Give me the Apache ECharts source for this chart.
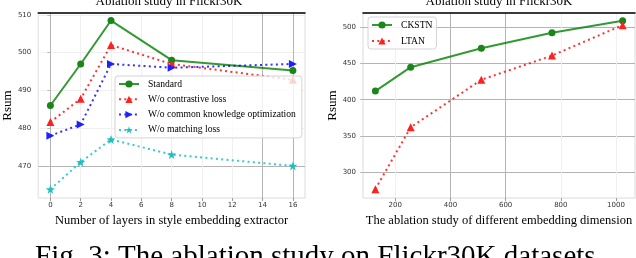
<!DOCTYPE html>
<html><head><meta charset="utf-8">
<script src="https://cdn.jsdelivr.net/npm/echarts@6/dist/echarts.min.js"></script>
<style>html,body{margin:0;padding:0;background:#fff}#c{width:636px;height:258px}</style>
</head><body><div id="c"></div>
<script>
// ---- data ----
const layersX = [0, 2, 4, 8, 16];
const standard = [486, 497, 508.5, 498, 495.3];
const woContrastive = [481.6, 487.8, 502, 497, 492.8];
const woCommon = [478, 481, 497, 496, 497];
const woMatching = [463.8, 471, 477, 473, 470];

const dimX = [128, 256, 512, 768, 1024];
const ckstn = [412, 445, 471, 492.5, 509];
const ltan = [276.5, 362, 427.6, 461, 503];

const layerTicks = [0, 2, 4, 6, 8, 10, 12, 14, 16];
const rsumTicksL = [470, 480, 490, 500, 510];
const dimTicks = [200, 400, 600, 800, 1000];
const rsumTicksR = [300, 350, 400, 450, 500];

const namesL = ['Standard', 'W/o contrastive loss', 'W/o common knowledge optimization', 'W/o matching loss'];
const namesR = ['CKSTN', 'LTAN'];
const titleText = 'Ablation study in Flickr30K';
const xNameL = 'Number of layers in style embedding extractor';
const xNameR = 'The ablation study of different embedding dimension';
const yName = 'Rsum';
const caption = 'Fig. 3: The ablation study on Flickr30K datasets.';

// ---- helpers ----
const pairs = (xs, ys) => xs.map((x, i) => [x, ys[i]]);
const DARK = '#b4b4b4', LIGHT = '#f0f0f0';
const serif = 'Liberation Serif';
const star = 'path://M0,-10 L2.35,-3.24 L9.51,-3.09 L3.8,1.24 L5.88,8.09 L0,4 L-5.88,8.09 L-3.8,1.24 L-9.51,-3.09 L-2.35,-3.24 Z';
const rightTri = 'path://M0,0 L10,5 L0,10 Z';
const tickLabel = {fontSize: 7, color: '#333', fontFamily: 'DejaVu Sans', formatter: v => String(v)};

function xAxisMain(gi, min, max, ticks, colors, name) {
  return {
    type: 'value', gridIndex: gi, min: min, max: max,
    name: name, nameLocation: 'middle', nameGap: 12,
    nameTextStyle: {fontFamily: serif, fontSize: 12.5, color: '#000'},
    axisLine: {show: false},
    axisTick: {show: true, customValues: ticks, length: 3, lineStyle: {color: '#999'}},
    axisLabel: {customValues: ticks, margin: 4, ...tickLabel},
    splitLine: {show: true, lineStyle: {color: colors, width: 1}}
  };
}
function yAxisMain(gi, min, max, ticks, colors) {
  return {
    type: 'value', gridIndex: gi, min: min, max: max,
    name: yName, nameLocation: 'middle', nameGap: 19, nameRotate: 90,
    nameTextStyle: {fontFamily: serif, fontSize: 13, color: '#000'},
    axisLine: {show: false},
    axisTick: {show: true, customValues: ticks, length: 3, lineStyle: {color: '#bbb'}},
    axisLabel: {customValues: ticks, margin: 7, ...tickLabel},
    splitLine: {show: true, lineStyle: {color: colors, width: 1}}
  };
}
function topLine(gi, min, max) {
  return {
    type: 'value', gridIndex: gi, min: min, max: max, position: 'top',
    axisLine: {show: true, lineStyle: {color: '#000', width: 1.5}},
    axisTick: {show: false}, axisLabel: {show: false}, splitLine: {show: false}
  };
}
function lineSeries(name, xi, yi, data, color, symColor, symbol, size, dashed) {
  return {
    type: 'line', name: name, xAxisIndex: xi, yAxisIndex: yi, data: data,
    symbol: symbol, symbolSize: size, showAllSymbol: true,
    itemStyle: {color: symColor},
    lineStyle: {color: color, width: 2, type: dashed ? [2, 3.3] : 'solid', cap: 'butt'},
    emphasis: {disabled: true}, animation: false
  };
}

const G = 'rgba(0,128,0,0.8)', R = 'rgba(255,0,0,0.8)', B = 'rgba(0,0,255,0.8)', C = 'rgba(0,191,191,0.8)';
const legendText = {fontFamily: serif, fontSize: 9.6, color: '#000', padding: [0, 0, 0, 4]};

const option = {
  animation: false,
  textStyle: {fontFamily: serif},
  grid: [
    {left: 33, top: 13, width: 272, height: 185, show: true, borderColor: '#e8e8e8', borderWidth: 1.5, backgroundColor: '#fff'},
    {left: 363, top: 13, width: 272, height: 185, show: true, borderColor: '#e8e8e8', borderWidth: 1.5, backgroundColor: '#fff'}
  ],
  xAxis: [
    xAxisMain(0, -0.8, 16.8, layerTicks, [DARK, LIGHT, LIGHT, LIGHT, LIGHT, LIGHT, LIGHT, DARK, DARK], xNameL),
    xAxisMain(1, 83.2, 1068.8, dimTicks, [LIGHT, DARK, DARK, LIGHT, LIGHT], xNameR),
    topLine(0, -0.8, 16.8),
    topLine(1, 83.2, 1068.8)
  ],
  yAxis: [
    yAxisMain(0, 461.5, 510.5, rsumTicksL, [DARK, LIGHT, LIGHT, LIGHT, LIGHT]),
    yAxisMain(1, 264.3, 519.8, rsumTicksR, [DARK, DARK, DARK, DARK, DARK])
  ],
  legend: [
    {
      data: namesL,
      left: 115, top: 76, orient: 'vertical', itemWidth: 20, itemHeight: 9, itemGap: 5.3,
      padding: [3, 6, 3, 3], backgroundColor: 'rgba(255,255,255,0.8)', borderColor: '#d4d4d4', borderWidth: 1, borderRadius: 3,
      textStyle: legendText
    },
    {
      data: namesR,
      left: 368, top: 17, orient: 'vertical', itemWidth: 20, itemHeight: 9, itemGap: 6,
      padding: [3, 4, 3, 3], backgroundColor: 'rgba(255,255,255,0.8)', borderColor: '#d4d4d4', borderWidth: 1, borderRadius: 3,
      textStyle: legendText
    }
  ],
  series: [
    lineSeries(namesL[0], 0, 0, pairs(layersX, standard), G, '#1a861a', 'circle', 7, false),
    lineSeries(namesL[1], 0, 0, pairs(layersX, woContrastive), R, '#ff2020', 'triangle', 8, true),
    lineSeries(namesL[2], 0, 0, pairs(layersX, woCommon), B, '#2020ff', rightTri, 8, true),
    lineSeries(namesL[3], 0, 0, pairs(layersX, woMatching), C, '#20c0c0', star, 9, true),
    lineSeries(namesR[0], 1, 1, pairs(dimX, ckstn), G, '#1a861a', 'circle', 7, false),
    lineSeries(namesR[1], 1, 1, pairs(dimX, ltan), R, '#ff2020', 'triangle', 8, true)
  ],
  graphic: [
    {type: 'text', x: 169, y: 8, style: {text: titleText, font: '13px "Liberation Serif"', fill: '#000', align: 'center', verticalAlign: 'bottom'}},
    {type: 'text', x: 499, y: 8, style: {text: titleText, font: '13px "Liberation Serif"', fill: '#000', align: 'center', verticalAlign: 'bottom'}},
    {type: 'text', x: 35, y: 243, style: {text: caption, font: '29px "Liberation Serif"', fill: '#000', align: 'left', verticalAlign: 'top'}}
  ]
};
const chart = echarts.init(document.getElementById('c'), null, {renderer: 'canvas'});
chart.setOption(option);
</script></body></html>
